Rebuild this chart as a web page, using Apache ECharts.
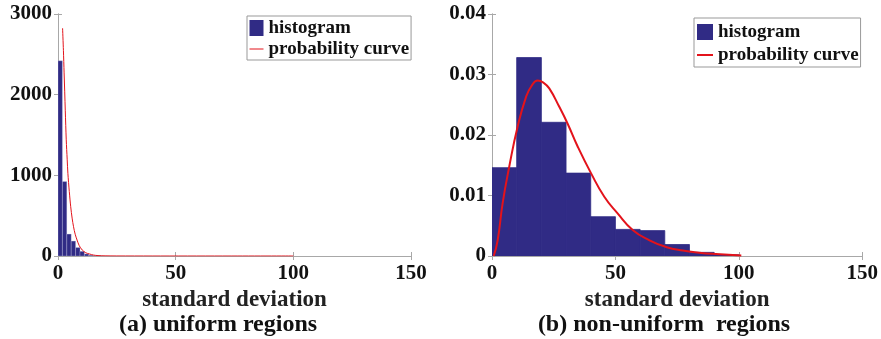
<!DOCTYPE html>
<html>
<head>
<meta charset="utf-8">
<script src="https://cdn.jsdelivr.net/npm/echarts@6/dist/echarts.min.js"></script>
<style>
html,body{margin:0;padding:0;background:#fff;}
#c{width:881px;height:339px;}
</style>
</head>
<body>
<div id="c"></div>
<script>
// ---- data (a) uniform regions ----
var histAEdges = [0, 1.87, 3.74, 5.61, 7.48, 9.35, 11.22, 13.09, 14.96, 16.83, 18.7];
var histACounts = [2420, 923, 272, 185, 105, 58, 25, 10, 4, 2];
var curveAX = [1.95, 2.3, 2.6, 3.1, 3.5, 3.9, 4.2, 4.8, 5.4, 6.0, 6.6, 7.3, 8.1, 9.0, 10.3, 11.8, 13.4, 15, 17, 20, 25, 40, 70, 100];
var curveAY = [2823, 2550, 2270, 1800, 1440, 1200, 1025, 800, 611, 470, 363, 270, 198, 130, 74, 40, 25, 12, 5, 2, 0.5, 0, 0, 0];

// ---- data (b) non-uniform regions ----
var histBEdges = [0, 10, 20, 30, 40, 50, 60, 70, 80, 90, 100];
var histBValues = [0.0146, 0.0328, 0.0221, 0.0137, 0.0065, 0.0044, 0.0042, 0.0019, 0.0006, 0.0002];
var curveBX = [0.7, 2.3, 4.3, 7.0, 10.4, 13.8, 16.0, 18.5, 21.0, 23.2, 27.2, 30.6, 34.7, 40.1, 45.5, 50.8, 57.0, 63.8, 70.5, 77.3, 84.0, 90.7, 101];
var curveBY = [0, 0.0026, 0.0087, 0.0148, 0.0214, 0.0263, 0.0281, 0.0290, 0.0286, 0.0277, 0.0247, 0.0219, 0.0181, 0.0137, 0.0098, 0.0071, 0.0043, 0.0026, 0.0015, 0.0009, 0.00055, 0.00033, 0.0001];

// ---- tick labels / text ----
var xTicks = [0, 50, 100, 150];
var yTicksA = [0, 1000, 2000, 3000];
var yTicksB = [0, 0.01, 0.02, 0.03, 0.04];
var xName = 'standard deviation';
var captionA = '(a) uniform regions';
var captionB = '(b) non-uniform  regions';
var nameHist = 'histogram';
var nameCurve = 'probability curve';

function histData(edges, vals) {
  var out = [];
  for (var i = 0; i < vals.length; i++) out.push([edges[i], edges[i + 1], vals[i]]);
  return out;
}
function zip(xs, ys) {
  var out = [];
  for (var i = 0; i < xs.length; i++) out.push([xs[i], ys[i]]);
  return out;
}
function renderBar(stroke, lw) {
  return function (params, api) {
    var p0 = api.coord([api.value(0), api.value(2)]);
    var p1 = api.coord([api.value(1), 0]);
    return {
      type: 'rect',
      shape: { x: p0[0], y: p0[1], width: p1[0] - p0[0], height: p1[1] - p0[1] },
      style: { fill: '#302b85', stroke: stroke, lineWidth: lw }
    };
  };
}

var FONT = 'Liberation Serif';
var BAR = '#302b85';
var RED = '#e3131b';
var AXC = '#a8a8a8';

function boxAxes(gi, yMax, yInt) {
  var lbl = { fontFamily: FONT, fontWeight: 'bold', fontSize: 21, color: '#111' };
  return {
    x: [
      { gridIndex: gi, type: 'value', min: xTicks[0], max: xTicks[xTicks.length - 1], interval: 50,
        position: 'bottom', name: xName, nameLocation: 'middle', nameGap: 31,
        nameTextStyle: { fontFamily: FONT, fontWeight: 'bold', fontSize: 23, color: '#222' },
        axisLine: { lineStyle: { color: AXC, width: 1 } },
        axisTick: { inside: true, length: 4, lineStyle: { color: AXC } },
        axisLabel: Object.assign({ margin: 7, formatter: function (v) { return String(v); } }, lbl),
        splitLine: { show: false } },
      { gridIndex: gi, type: 'value', min: xTicks[0], max: xTicks[xTicks.length - 1], interval: 50,
        position: 'top',
        axisLine: { lineStyle: { color: AXC, width: 1 } },
        axisTick: { inside: true, length: 4, lineStyle: { color: AXC } },
        axisLabel: { show: false }, splitLine: { show: false } }
    ],
    y: [
      { gridIndex: gi, type: 'value', min: 0, max: yMax, interval: yInt, position: 'left',
        axisLine: { show: true, lineStyle: { color: AXC, width: 1 } },
        axisTick: { show: true, inside: true, length: 4, lineStyle: { color: AXC } },
        axisLabel: Object.assign({ margin: 6, formatter: function (v) { return String(+v.toFixed(4)); } }, lbl),
        splitLine: { show: false } },
      { gridIndex: gi, type: 'value', min: 0, max: yMax, interval: yInt, position: 'right',
        axisLine: { show: true, lineStyle: { color: AXC, width: 1 } },
        axisTick: { show: true, inside: true, length: 4, lineStyle: { color: AXC } },
        axisLabel: { show: false }, splitLine: { show: false } }
    ]
  };
}

var A = boxAxes(0, yTicksA[yTicksA.length - 1], yTicksA[1] - yTicksA[0]);
var B = boxAxes(1, yTicksB[yTicksB.length - 1], 0.01);

var legendText = { fontFamily: FONT, fontWeight: 'bold', fontSize: 19, color: '#111', lineHeight: 20 };
var noSymbol = { opacity: 0, color: 'rgba(0,0,0,0)', borderWidth: 0 };

var option = {
  backgroundColor: '#fff',
  animation: false,
  title: [
    { text: captionA, left: 213, top: 308, textAlign: 'center',
      textStyle: { fontFamily: FONT, fontWeight: 'bold', fontSize: 24, color: '#111' } },
    { text: captionB, left: 659, top: 308, textAlign: 'center',
      textStyle: { fontFamily: FONT, fontWeight: 'bold', fontSize: 24, color: '#111' } }
  ],
  grid: [
    { left: 58, top: 14, width: 353, height: 242 },
    { left: 492, top: 14, width: 371, height: 242 }
  ],
  legend: [
    { orient: 'vertical', left: 247, top: 16, padding: [2, 2, 1, 2], itemGap: 1,
      itemWidth: 14, itemHeight: 16, borderColor: '#999', borderWidth: 1, backgroundColor: '#fff',
      textStyle: legendText,
      data: [{ name: nameHist, icon: 'rect' }, { name: nameCurve, itemStyle: noSymbol, lineStyle: { width: 1 } }] },
    { orient: 'vertical', left: 694, top: 18, padding: [4, 2, 2, 2], itemGap: 3,
      itemWidth: 16, itemHeight: 16, borderColor: '#999', borderWidth: 1, backgroundColor: '#fff',
      textStyle: legendText,
      data: [{ name: nameHist, icon: 'rect' }, { name: nameCurve, itemStyle: noSymbol, lineStyle: { width: 2 } }] }
  ],
  xAxis: A.x.concat(B.x),
  yAxis: A.y.concat(B.y),
  series: [
    { name: nameHist, type: 'custom', xAxisIndex: 0, yAxisIndex: 0, clip: true,
      itemStyle: { color: BAR }, encode: { x: [0, 1], y: 2 },
      renderItem: renderBar('rgba(200,200,230,0.5)', 0.6), data: histData(histAEdges, histACounts) },
    { name: nameCurve, type: 'line', xAxisIndex: 0, yAxisIndex: 0, symbol: 'none', smooth: 0.3,
      itemStyle: { color: RED }, lineStyle: { color: RED, width: 1 }, data: zip(curveAX, curveAY) },
    { name: nameHist, type: 'custom', xAxisIndex: 2, yAxisIndex: 2, clip: true,
      itemStyle: { color: BAR }, encode: { x: [0, 1], y: 2 },
      renderItem: renderBar(BAR, 0.8), data: histData(histBEdges, histBValues) },
    { name: nameCurve, type: 'line', xAxisIndex: 2, yAxisIndex: 2, symbol: 'none', smooth: 0.5,
      itemStyle: { color: RED }, lineStyle: { color: RED, width: 2 }, data: zip(curveBX, curveBY) }
  ]
};

var chart = echarts.init(document.getElementById('c'), null, { renderer: 'canvas' });
chart.setOption(option);
</script>
</body>
</html>
